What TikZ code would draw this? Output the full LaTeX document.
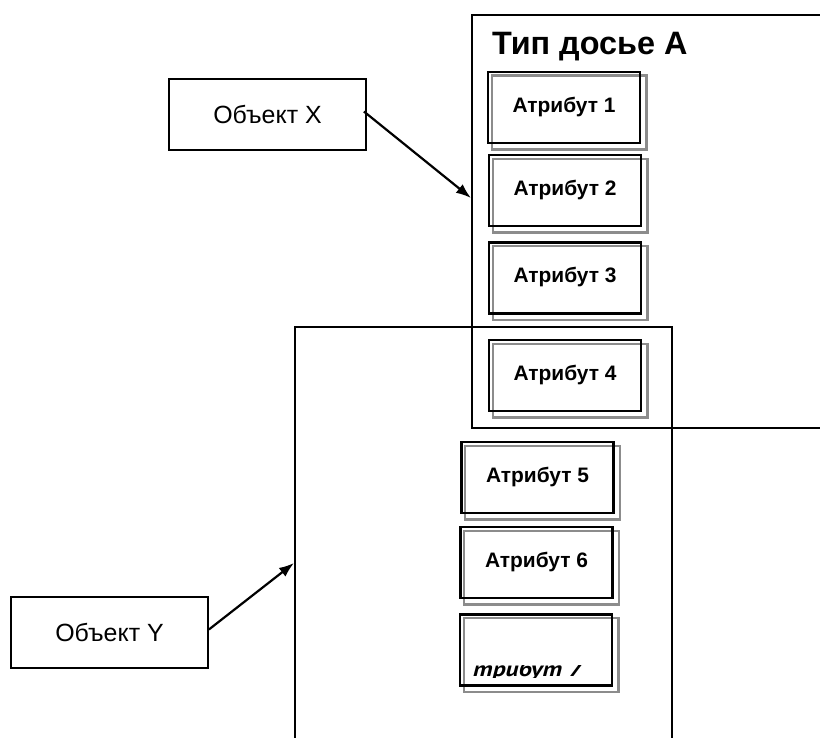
\documentclass[tikz,border=0pt]{standalone}
\usepackage{fontspec}
\setmainfont{Liberation Sans}
\newfontfamily\ptsans{PT Sans}
\usetikzlibrary{arrows.meta}
\pgfdeclarelayer{bg}
\pgfsetlayers{bg,main}
\tikzset{
  bigbox/.style={draw=black, line width=2bp, inner sep=0pt},
  objbox/.style={draw=black, line width=1.8bp, minimum width=197bp, minimum height=71bp,
    inner sep=0pt, text height=17bp, text depth=0pt, font=\fontsize{25}{28}\selectfont},
  attrbox/.style={draw=black, line width=2.8bp, minimum width=152bp, minimum height=71bp,
    inner sep=0pt, text height=9bp, text depth=0pt, font=\bfseries\fontsize{21}{24}\selectfont},
  shadowline/.style={draw=black!45, line width=2.2bp},
  arrowline/.style={draw=black, line width=2.2bp, -{Latex[length=15bp,width=11bp]}},
  titletext/.style={anchor=base west, inner sep=0pt, font=\bfseries\fontsize{32.5}{36}\selectfont},
}
\begin{document}
\begin{tikzpicture}[x=1bp,y=-1bp]
\useasboundingbox (0,0) rectangle (820,738);
\clip (0,0) rectangle (820,738);
\begin{pgfonlayer}{bg}
  \fill[white] (0,0) rectangle (820,738);
\end{pgfonlayer}
% big frames
\node[bigbox, minimum width=428bp, minimum height=413bp] (A) at (686,221.5) {};
\node[bigbox, minimum width=377bp, minimum height=473bp] (B) at (483.5,563.5) {};
\node[titletext] (title) at (492,55) {Тип досье А};
% attributes
\node[attrbox] (a1) at (564,107.5) {Атрибут 1};
\node[attrbox] (a2) at (565,190.5) {Атрибут 2};
\node[attrbox] (a3) at (565,278) {Атрибут 3};
\node[attrbox] (a4) at (565,375.5) {Атрибут 4};
\node[attrbox] (a5) at (537.5,477.5) {Атрибут 5};
\node[attrbox] (a6) at (536.5,562.5) {Атрибут 6};
\node[attrbox] (a7) at (536,650) {};
\begin{scope}
  \clip (473,665) rectangle (612,677);
  \node[anchor=base west, inner sep=0pt, font=\ptsans\bfseries\itshape\fontsize{21}{24}\selectfont] (t7) at (473,676.5) {\scalebox{1.22}[1]{трибут 7}};
\end{scope}
\begin{pgfonlayer}{bg}
  \foreach \n in {a1,a2,a3,a4,a5,a6,a7}{
    \draw[shadowline] ([shift={(5,5)}]\n.north west) rectangle ([shift={(5,5)}]\n.south east);
  }
\end{pgfonlayer}
% objects
\node[objbox] (ox) at (267.5,114.5) {Объект X};
\node[objbox] (oy) at (109.5,632.5) {Объект Y};
\coordinate (xin) at (A.west |- 0,198);
\coordinate (yin) at (B.west |- 0,563);
\draw[arrowline] ([shift={(-3,-3)}]ox.east) -- (xin);
\draw[arrowline] ([shift={(0,-3)}]oy.east) -- (yin);
\end{tikzpicture}
\end{document}
